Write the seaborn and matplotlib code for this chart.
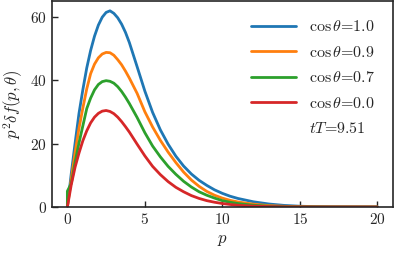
import numpy as np
import pandas as pd
import matplotlib
matplotlib.use("Agg")
import matplotlib.pyplot as plt
import seaborn as sns
from matplotlib.lines import Line2D

sns.set_style("ticks")
plt.rcParams["font.family"] = "serif"
plt.rcParams["font.serif"] = ["cmr10"]
plt.rcParams["mathtext.fontset"] = "cm"
plt.rcParams["axes.formatter.use_mathtext"] = True
plt.rcParams["axes.unicode_minus"] = False

# momentum grid
p = [0, 0.25, 0.5, 0.75, 1.0, 1.25, 1.5, 1.75, 2.0, 2.25, 2.5, 2.75, 3.0, 3.25,
     3.5, 3.75, 4.0, 4.5, 5.0, 5.5, 6.0, 6.5, 7.0, 7.5, 8.0, 8.5, 9.0, 9.5,
     10.0, 10.5, 11.0, 12.0, 13.0, 14.0, 15.0, 16.0, 17.0, 18.0, 19.0, 20.0]

cos10 = [0, 10.5, 20.2, 29.5, 37.0, 43.8, 49.3, 53.8, 57.3, 59.8, 61.3, 61.8, 61.0, 59.6,
         57.6, 55.0, 51.8, 44.2, 36.5, 29.8, 24.3, 19.8, 16.0, 12.9, 10.4, 8.4, 6.8, 5.4,
         4.3, 3.4, 2.7, 1.65, 0.95, 0.5, 0.25, 0.12, 0.06, 0.03, 0.01, 0.0]
cos09 = [0, 8.8, 17.2, 24.8, 31.2, 37.2, 42.0, 45.0, 47.0, 48.2, 48.7, 48.6, 47.8, 46.4,
         44.8, 42.8, 40.6, 35.8, 30.0, 25.2, 21.0, 17.3, 14.0, 11.0, 8.5, 6.5, 4.9, 3.7,
         2.8, 2.1, 1.6, 0.9, 0.45, 0.22, 0.1, 0.05, 0.02, 0.01, 0.0, 0.0]
# green has a short jump at p=0
p07 = [0, 0] + p[1:]
cos07 = [0, 5.0, 7.4, 14.2, 20.2, 25.6, 31.0, 34.3, 36.9, 38.6, 39.5, 39.8, 39.6, 39.0, 37.9,
         36.4, 34.6, 32.6, 28.2, 23.4, 19.2, 15.8, 12.8, 10.3, 8.1, 6.3, 4.8, 3.7, 2.8,
         2.0, 1.5, 1.1, 0.55, 0.25, 0.12, 0.05, 0.02, 0.0, 0.0, 0.0, 0.0]
cos00 = [0, 7.0, 12.6, 17.0, 20.9, 24.0, 26.5, 28.3, 29.5, 30.2, 30.4, 30.1, 29.4, 28.3,
         26.9, 25.3, 23.6, 19.8, 16.1, 12.8, 10.2, 8.0, 6.2, 4.8, 3.6, 2.7, 2.0, 1.5,
         1.1, 0.8, 0.55, 0.28, 0.13, 0.06, 0.03, 0.0, 0.0, 0.0, 0.0, 0.0]

labels = [r"$\cos\theta$=1.0", r"$\cos\theta$=0.9", r"$\cos\theta$=0.7", r"$\cos\theta$=0.0"]
colors = ["tab:blue", "tab:orange", "tab:green", "tab:red"]

frames = []
for lab, xs, ys in zip(labels, [p, p, p07, p], [cos10, cos09, cos07, cos00]):
    frames.append(pd.DataFrame({"p": xs, "val": ys, "curve": lab}))
df = pd.concat(frames, ignore_index=True)

fig, ax = plt.subplots(figsize=(3.96, 2.54), dpi=100)
sns.lineplot(data=df, x="p", y="val", hue="curve", palette=colors,
             estimator=None, sort=False, lw=2, legend=False, ax=ax)
ax.set_ylim(bottom=0)
ax.set_xticks([0, 5, 10, 15, 20])
ax.set_yticks([0, 20, 40, 60])
ax.tick_params(direction="in", labelsize=11, length=4, width=1)
ax.set_xlabel(r"$p$", fontsize=12)
ax.set_ylabel(r"$p^2\delta f(p,\theta)$", fontsize=12)
for s in ax.spines.values():
    s.set_linewidth(1.2)

handles = [Line2D([], [], color=c, lw=2) for c in colors]
handles.append(Line2D([], [], ls="none"))
ax.legend(handles, labels + [r"$tT$=9.51"], frameon=False, fontsize=11.5,
          loc="upper right", handlelength=2.8, labelspacing=0.65,
          borderaxespad=0.75)

fig.subplots_adjust(left=0.131, right=0.992, top=0.996, bottom=0.185)
fig.savefig("out.png", dpi=100)
